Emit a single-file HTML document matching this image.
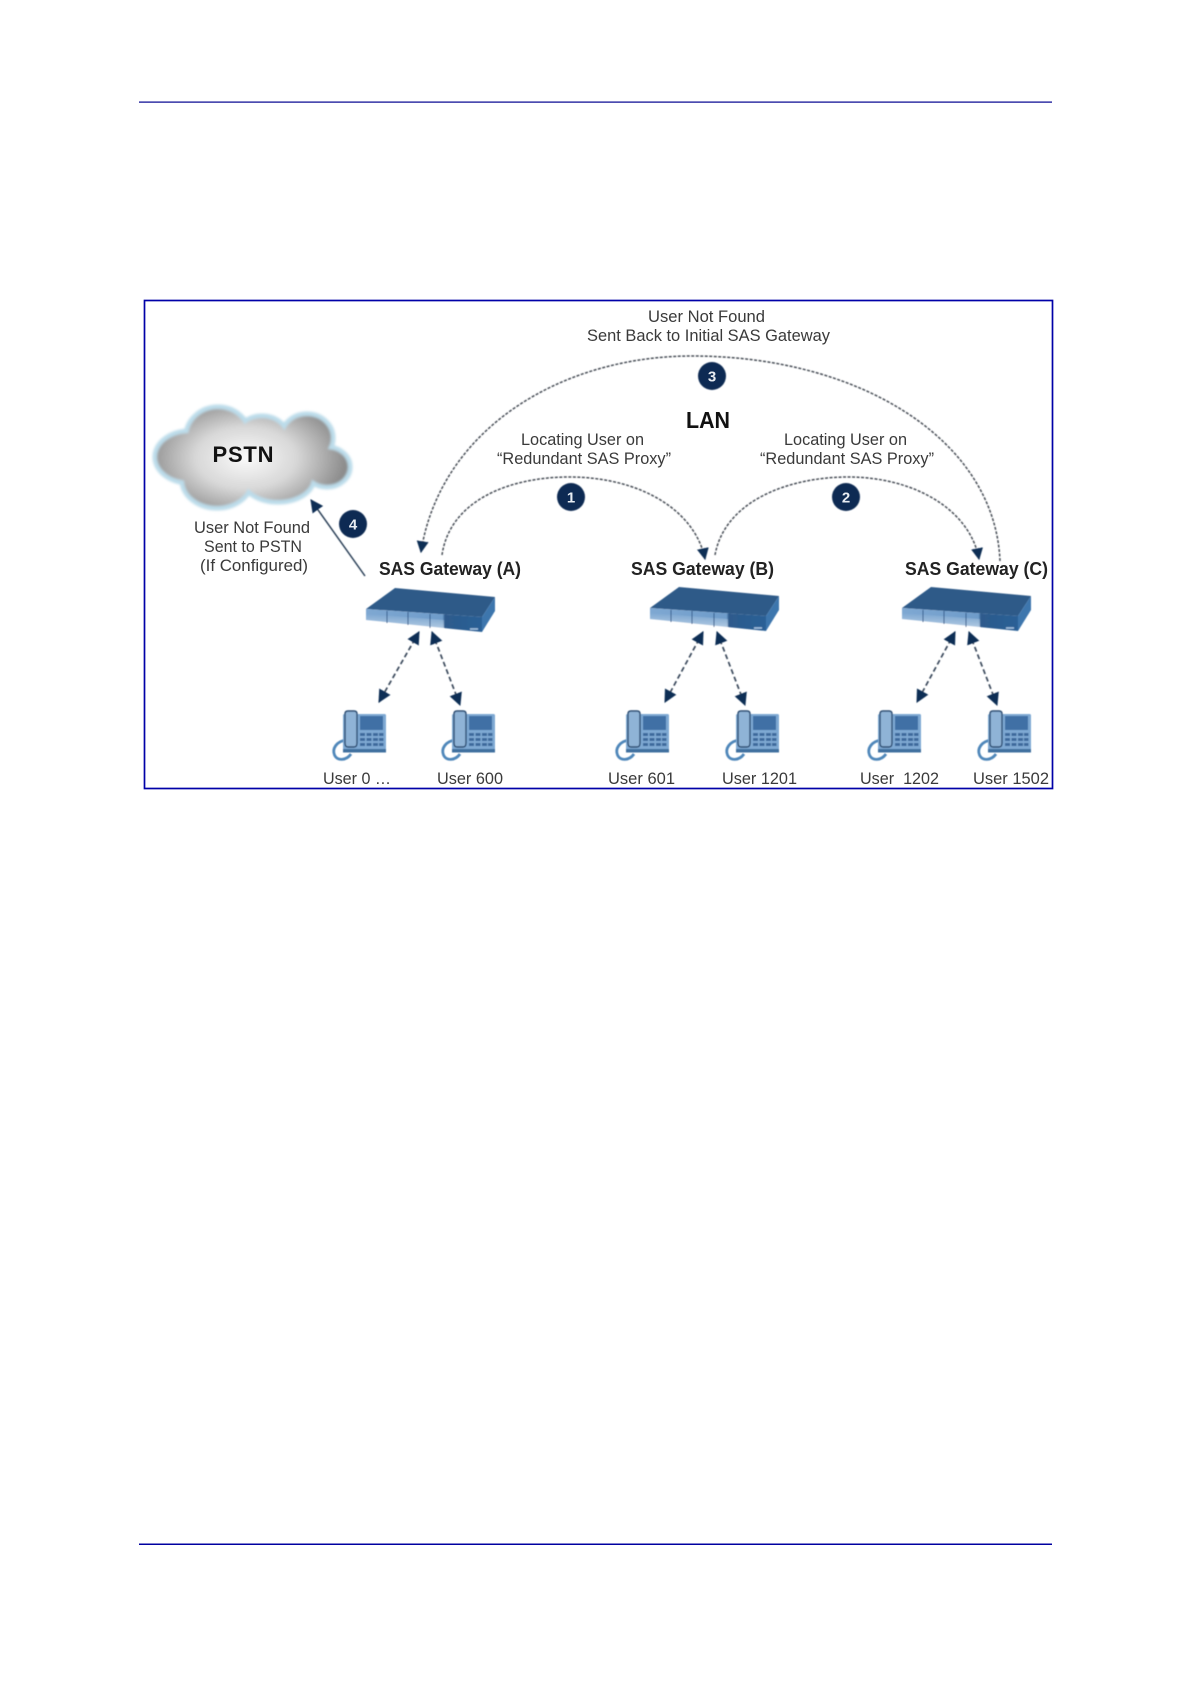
<!DOCTYPE html>
<html><head><meta charset="utf-8"><style>
html,body{margin:0;padding:0;background:#fff}
svg{display:block}
text{font-family:"Liberation Sans",Arial,sans-serif;fill:#3a3a3a;font-size:17px}
.b{font-weight:bold;fill:#222;font-size:18px}
.n{font-weight:bold;fill:#e8edf3;font-size:15px}
</style></head><body>
<svg width="1191" height="1683" viewBox="0 0 1191 1683" xmlns="http://www.w3.org/2000/svg">
<defs>
<filter id="s1" x="-5%" y="-5%" width="110%" height="110%"><feGaussianBlur stdDeviation="0.45"/></filter>
<filter id="s2" x="-10%" y="-10%" width="120%" height="120%"><feGaussianBlur stdDeviation="1.2"/></filter>
<radialGradient id="cg" gradientUnits="userSpaceOnUse" cx="246" cy="458" r="100" gradientTransform="translate(246 458) scale(1 .62) translate(-246 -458)">
<stop offset="0" stop-color="#fafafa"/><stop offset=".5" stop-color="#d8d8d8"/><stop offset="1" stop-color="#8c8c8c"/></radialGradient>
<linearGradient id="fr" x1="0" x2="1" y1="0" y2="0"><stop offset="0" stop-color="#7fa8d2"/><stop offset=".66" stop-color="#6e9cca"/><stop offset=".68" stop-color="#2d5a8c"/><stop offset="1" stop-color="#2c6096"/></linearGradient>
<linearGradient id="fr2" x1="0" x2="0" y1="0" y2="1"><stop offset="0" stop-color="#fff" stop-opacity="0"/><stop offset="1" stop-color="#fff" stop-opacity=".55"/></linearGradient>
<marker id="a" viewBox="0 0 10 10" refX="9" refY="5" markerWidth="12" markerHeight="12" markerUnits="userSpaceOnUse" orient="auto-start-reverse"><path d="M0 0L10 5L0 10z" fill="#0f2f55"/></marker>
<marker id="ab" viewBox="0 0 12 12" refX="11" refY="6" markerWidth="13" markerHeight="13" markerUnits="userSpaceOnUse" orient="auto-start-reverse"><path d="M0 0L12 6L0 12z" fill="#0f2f55"/></marker>
<g id="lobes">
<ellipse cx="190" cy="457" rx="33" ry="24"/><ellipse cx="218" cy="437" rx="30" ry="28"/>
<ellipse cx="262" cy="440" rx="25" ry="22"/><ellipse cx="307" cy="438" rx="24" ry="22"/>
<ellipse cx="327" cy="467" rx="21" ry="18"/><ellipse cx="217" cy="480" rx="33" ry="26"/>
<ellipse cx="278" cy="478" rx="34" ry="22"/><ellipse cx="255" cy="460" rx="60" ry="25"/>
</g>
<g id="gw">
<path d="M0 21L29 0L129 9L116 29Z" fill="#2f5a88"/>
<path d="M116 29L129 9V23L116 44Z" fill="#3d76ad"/>
<path d="M0 21L116 29V44L0 32Z" fill="url(#fr)"/>
<path d="M0 26L78 32V43L0 32Z" fill="url(#fr2)"/>
<path d="M21 23V35M42 24V37M64 26V40" stroke="#2d5a8c" stroke-width="1"/>
<path d="M104 41h8" stroke="#a9c6e2" stroke-width="1.5"/>
</g>
<g id="ph">
<path d="M14 29C3 30 -1 38 1.500 44C4 50 13 50 18 43" fill="none" stroke="#4f87ba" stroke-width="2.800"/>
<rect x="10" y="3" width="43" height="38" rx="1.5" fill="#7ea9d3"/>
<rect x="10" y="38" width="43" height="3.5" fill="#3f6f9f"/>
<rect x="27" y="5" width="23" height="14" fill="#3f6fa5"/>
<g fill="#3d6b9c"><rect x="27" y="22" width="5" height="3"/><rect x="33.500" y="22" width="5" height="3"/><rect x="40" y="22" width="5" height="3"/><rect x="46" y="22" width="4.500" height="3"/>
<rect x="27" y="27" width="5" height="3"/><rect x="33.500" y="27" width="5" height="3"/><rect x="40" y="27" width="5" height="3"/><rect x="46" y="27" width="4.500" height="3"/>
<rect x="27" y="32" width="5" height="3"/><rect x="33.500" y="32" width="5" height="3"/><rect x="40" y="32" width="5" height="3"/><rect x="46" y="32" width="4.500" height="3"/></g>
<path d="M12 3Q12 0 15 0H21Q24 0 24 3V32Q24 36 21 36H15Q12 36 12 32Z" fill="#8fb3d6" stroke="#27496f" stroke-width="1.4"/>
</g>
</defs>

<rect x="139" y="101.500" width="913" height="1.200" fill="#00008f"/>
<rect x="139" y="1543.500" width="913" height="1.500" fill="#0000a0"/>
<rect x="144.500" y="300.500" width="908" height="488" fill="none" stroke="#0000a8" stroke-width="1.700"/>

<!-- cloud -->
<g filter="url(#s2)">
<use href="#lobes" fill="#bcdcea" stroke="#bcdcea" stroke-width="9"/>
<use href="#lobes" fill="url(#cg)"/>
</g>
<text x="243" y="462" text-anchor="middle" textLength="61" lengthAdjust="spacing" style="font-weight:bold;font-size:22px;fill:#111">PSTN</text>

<g filter="url(#s1)">
<!-- curved connectors -->
<g fill="none" stroke="#4a5058" stroke-width="1.500" stroke-dasharray="3 1.500">
<path d="M442 555C450 500 510 477 569 477C640 477 695 510 705 559" marker-end="url(#a)"/>
<path d="M715 555C725 500 790 477 848 477C915 477 970 510 979 559" marker-end="url(#a)"/>
<path d="M1000 561C995 440 860 356 692 356C560 356 440 430 421 552" marker-end="url(#a)"/>
</g>
<path d="M365 576L311 500" stroke="#2c3f57" stroke-width="1.500" fill="none" marker-end="url(#ab)"/>

<!-- dashed phone links -->
<g fill="none" stroke="#3b4a5c" stroke-width="1.700" stroke-dasharray="5 3" marker-start="url(#ab)" marker-end="url(#ab)">
<path d="M419 632L379 702"/><path d="M432 632L460 705"/>
<path d="M703 632L665 702"/><path d="M717 632L745 705"/>
<path d="M955 632L917 702"/><path d="M969 632L997 705"/>
</g>

<!-- devices -->
<use href="#gw" x="366" y="588"/><use href="#gw" x="650" y="587"/><use href="#gw" x="902" y="587"/>
<!-- phones -->
<use href="#ph" x="333" y="711"/><use href="#ph" x="442" y="711"/>
<use href="#ph" x="616" y="711"/><use href="#ph" x="726" y="711"/>
<use href="#ph" x="868" y="711"/><use href="#ph" x="978" y="711"/>

<!-- badges -->
<g fill="#0d2c52"><circle cx="571" cy="497" r="14"/><circle cx="846" cy="497" r="14"/><circle cx="712" cy="376" r="14"/><circle cx="353" cy="524" r="14"/></g>
</g>
<text class="n" x="571" y="502.500" text-anchor="middle">1</text>
<text class="n" x="846" y="502.500" text-anchor="middle">2</text>
<text class="n" x="712" y="381.500" text-anchor="middle">3</text>
<text class="n" x="353" y="529.500" text-anchor="middle">4</text>

<!-- labels -->
<text x="648" y="322" textLength="117" lengthAdjust="spacingAndGlyphs">User Not Found</text>
<text x="587" y="341" textLength="243" lengthAdjust="spacingAndGlyphs">Sent Back to Initial SAS Gateway</text>
<text x="686" y="428" textLength="44" lengthAdjust="spacingAndGlyphs" style="font-weight:bold;font-size:23px;fill:#111">LAN</text>
<text x="521" y="445" textLength="123" lengthAdjust="spacingAndGlyphs">Locating User on</text>
<text x="497" y="464" textLength="174" lengthAdjust="spacingAndGlyphs">“Redundant SAS Proxy”</text>
<text x="784" y="445" textLength="123" lengthAdjust="spacingAndGlyphs">Locating User on</text>
<text x="760" y="464" textLength="174" lengthAdjust="spacingAndGlyphs">“Redundant SAS Proxy”</text>
<text x="194" y="533" textLength="116" lengthAdjust="spacingAndGlyphs">User Not Found</text>
<text x="204" y="552" textLength="98" lengthAdjust="spacingAndGlyphs">Sent to PSTN</text>
<text x="200" y="571" textLength="108" lengthAdjust="spacingAndGlyphs">(If Configured)</text>
<text class="b" x="379" y="575" textLength="142" lengthAdjust="spacingAndGlyphs">SAS Gateway  (A)</text>
<text class="b" x="631" y="575" textLength="143" lengthAdjust="spacingAndGlyphs">SAS Gateway  (B)</text>
<text class="b" x="905" y="575" textLength="143" lengthAdjust="spacingAndGlyphs">SAS Gateway  (C)</text>
<text x="323" y="784" textLength="68" lengthAdjust="spacingAndGlyphs">User 0 …</text>
<text x="437" y="784" textLength="66" lengthAdjust="spacingAndGlyphs">User 600</text>
<text x="608" y="784" textLength="67" lengthAdjust="spacingAndGlyphs">User 601</text>
<text x="722" y="784" textLength="75" lengthAdjust="spacingAndGlyphs">User 1201</text>
<text x="860" y="784" textLength="79" lengthAdjust="spacingAndGlyphs" xml:space="preserve">User  1202</text>
<text x="973" y="784" textLength="76" lengthAdjust="spacingAndGlyphs">User 1502</text>
</svg>
</body></html>
